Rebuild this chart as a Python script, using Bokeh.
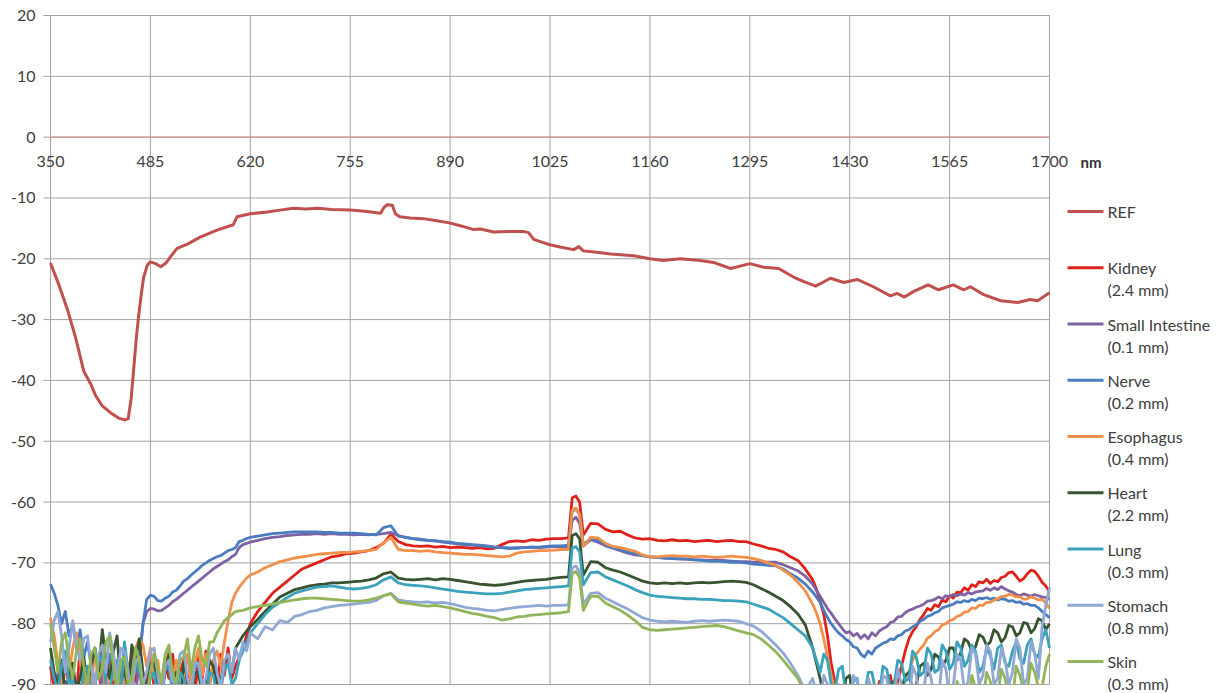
from bokeh.plotting import figure
from bokeh.models import Range1d
from bokeh.embed import file_html
from bokeh.resources import INLINE
from bokeh.core.properties import value

# ---------------------------------------------------------------- data
# sampling grid of the tissue spectra (nm): 5 nm steps in the two noisy ends,
# 10 nm in between, and extra points around the 1060 nm line
wavelength = (list(range(350, 620, 5)) + list(range(620, 1051, 10))
              + [1055, 1060, 1065] + list(range(1070, 1380, 10))
              + list(range(1380, 1701, 5)))

# reference spectrum (dB)
ref_wavelength = [350, 362, 373, 384, 395, 404, 411, 420, 431, 442,
                  451, 455, 459, 462, 466, 469, 473, 476, 481, 485,
                  492, 499, 506, 512, 521, 535, 553, 575, 597, 602,
                  620, 643, 660, 678, 695, 711, 730, 755, 775, 796,
                  801, 805, 812, 816, 822, 836, 854, 870, 889, 905,
                  922, 931, 949, 970, 989, 996, 1003, 1015, 1025, 1040,
                  1057, 1064, 1070, 1085, 1107, 1138, 1160, 1178, 1201, 1228,
                  1246, 1269, 1295, 1314, 1334, 1354, 1369, 1384, 1404, 1422,
                  1440, 1462, 1485, 1494, 1504, 1516, 1536, 1550, 1570, 1584,
                  1593, 1611, 1634, 1657, 1674, 1684, 1700]
ref_db = [-20.7, -24.5, -28.4, -33.0, -38.5, -40.5, -42.5, -44.2, -45.3, -46.2,
          -46.5, -46.3, -43.0, -38.7, -33.0, -29.5, -25.5, -23.0, -21.0, -20.5,
          -20.8, -21.3, -20.7, -19.7, -18.3, -17.6, -16.4, -15.3, -14.4, -13.1,
          -12.6, -12.3, -12.0, -11.7, -11.8, -11.7, -11.9, -12.0, -12.2, -12.5,
          -11.5, -11.1, -11.2, -12.6, -13.1, -13.3, -13.4, -13.7, -14.1, -14.6,
          -15.2, -15.1, -15.6, -15.5, -15.5, -15.7, -16.8, -17.3, -17.7, -18.1,
          -18.5, -18.0, -18.7, -18.9, -19.2, -19.5, -20.0, -20.3, -20.0, -20.3,
          -20.6, -21.6, -20.8, -21.4, -21.6, -23.0, -23.8, -24.5, -23.2, -23.9,
          -23.4, -24.6, -26.1, -25.7, -26.3, -25.4, -24.3, -25.1, -24.3, -25.1,
          -24.6, -25.9, -26.9, -27.2, -26.7, -26.9, -25.6]

kidney = [-87, -91, -88.5, -93, -86, -90.5, -88, -92, -84, -89,              # 350-395
          -91.5, -86.5, -90, -87, -93, -89, -85.5, -91, -88, -92.5,          # 400-445
          -86, -90, -84, -89.5, -87, -92, -88.5, -85, -90.5, -87,            # 450-495
          -92, -86.5, -89, -85, -91, -88, -86, -90, -87.5, -92,              # 500-545
          -85.5, -89, -84.5, -90, -86.5, -91, -85, -88.5, -84, -89,          # 550-595
          -87, -85.5, -84, -82,                                              # 600-615
          -80, -78, -76.5,                                                   # 620-640
          -75, -74, -73, -72, -71, -70.5, -70, -69.5, -69, -68.8,            # 650-740
          -68.5, -68.4, -68.2, -68, -67.5, -66.8, -65.3, -66.5, -67, -67.2,  # 750-840
          -67.3, -67.2, -67.4, -67.3, -67.5, -67.4, -67.5, -67.6, -67.5, -67.7,
          -67.6, -67, -66.5, -66.4, -66.5, -66.2, -66.3, -66.1, -66, -66,
          -65.9, -59.3, -59, -60, -65.4, -63.5, -63.6, -64.5, -64.9, -64.8,  # 1050-1120
          -65.4, -65.9, -66.1, -66, -66.3, -66.4, -66.2, -66.4, -66.3, -66.5,
          -66.4, -66.3, -66.5, -66.4, -66.3, -66.5, -66.5, -66.9, -67.2, -67.6,
          -67.8, -68.2, -69, -69.6, -71,                                     # 1330-1370
          -72.8, -74.3, -76.2, -78.5, -82, -86.5, -89.5, -93, -95, -92,      # 1380-1425
          -95, -97, -93, -96, -94, -97, -93.5, -95, -89.5, -94,
          -91, -88.5, -92, -89.5, -87, -84.5, -82.5, -81.3, -80.5, -79.3,
          -78.5, -77.5, -77.8, -76.9, -77.2, -76.1, -76.4, -75.4, -75.8, -74.8,
          -74.9, -74.1, -74.5, -73.6, -73.9, -73.1, -73.3, -72.7, -73.4, -72.9,
          -73.1, -72.4, -72.2, -71.6, -71.5, -72.2, -73, -72.6, -71.8, -71.2,
          -71.4, -72.2, -73.2, -73.8, -74.8]                                 # 1680-1700

small_intestine = [-90, -92, -88, -93, -89.5, -91, -87.5, -94, -90, -92.5,
                   -88.5, -91, -89, -93, -88, -92, -90, -94, -89, -91,
                   -87, -93, -88.5, -92, -86, -80, -78, -77.5, -77.6, -77.9,
                   -77.8, -77.4, -77, -76.4, -76, -75.5, -75, -74.5, -74, -73.5,
                   -73, -72.5, -72, -71.5, -71, -70.6, -70.2, -69.8, -69.5, -69,
                   -68.6, -67.5, -67, -66.8,
                   -66.6, -66.3, -66,
                   -65.8, -65.7, -65.5, -65.4, -65.3, -65.3, -65.2, -65.3, -65.2, -65.3,
                   -65.3, -65.4, -65.3, -65.4, -65.3, -65.2, -65, -65.5, -65.8, -66,
                   -66.1, -66.3, -66.4, -66.6, -66.7, -66.9, -67, -67.1, -67.2, -67.3,
                   -67.4, -67.5, -67.6, -67.5, -67.5, -67.4, -67.5, -67.4, -67.3, -67.4,
                   -67.4, -63, -62.5, -63.5, -67.2, -66.2, -66.6, -67.2, -67.6, -68,
                   -68.4, -68.7, -68.8, -69, -69.1, -69.2, -69.3, -69.4, -69.4, -69.5,
                   -69.5, -69.6, -69.5, -69.6, -69.7, -69.8, -69.8, -69.9, -69.9, -69.9,
                   -69.9, -70.3, -70.8, -71.3, -72.2,
                   -73.5, -74.5, -75.5, -76.5, -77.5, -78.3, -79.2, -80, -80.8, -81.5,
                   -81.3, -82, -81.6, -82.4, -81.8, -82.5, -81.5, -82, -81.2, -80.8,
                   -80.5, -79.8, -79.6, -78.9, -78.8, -78.2, -77.8, -77.6, -77.3, -77.1,
                   -76.8, -76.3, -76.2, -76, -75.6, -75.9, -75.4, -75.6, -75.2, -75.4,
                   -75.1, -75.3, -74.9, -75.1, -74.8, -74.7, -74.6, -74.2, -74.5, -74.1,
                   -74.4, -73.9, -74.3, -74.6, -74.8, -75.2, -75.4, -75.1, -75.3, -75.5,
                   -75.2, -75.4, -75.6, -75.7, -76]

nerve = [-73.5, -75, -77, -80, -78, -82, -80, -84, -81, -85.5,
         -83, -87, -84, -88.5, -86, -89, -85, -88, -86.5, -90,
         -87, -89.5, -86, -88, -86, -80, -76, -75.3, -75.5, -76.2,
         -76.3, -75.8, -75.5, -74.8, -74.5, -73.8, -73, -72.6, -72, -71.5,
         -71, -70.4, -70, -69.6, -69.3, -69, -68.8, -68.4, -68, -67.8,
         -67.5, -66.5, -66.3, -66,
         -65.8, -65.6, -65.4,
         -65.2, -65.1, -65, -64.9, -64.9, -64.9, -64.9, -65, -65, -65.1,
         -65.1, -65.1, -65.2, -65.3, -65.4, -64.2, -63.9, -65.6, -65.8, -66,
         -66.2, -66.3, -66.4, -66.5, -66.6, -66.8, -66.9, -67, -67.1, -67.2,
         -67.4, -67.5, -67.6, -67.6, -67.5, -67.4, -67.4, -67.3, -67.2, -67.2,
         -67.1, -61.5, -61.2, -62, -67, -66, -66.3, -67, -67.5, -67.8,
         -68.2, -68.5, -68.8, -69, -69.1, -69.2, -69.3, -69.3, -69.4, -69.5,
         -69.6, -69.7, -69.7, -69.8, -69.9, -69.9, -70, -70.2, -70.3, -70.4,
         -70.5, -71, -71.8, -72.5, -73.5,
         -74.8, -75.6, -76.5, -77.8, -79, -80, -80.8, -81.5, -82, -82.6,
         -83, -83.8, -84, -85, -85.5, -84.5, -85, -84, -83.6, -83.2,
         -83, -82.5, -82.6, -82, -81.8, -81.2, -81, -80.5, -80.2, -79.6,
         -79.3, -78.8, -78.6, -78.2, -78, -77.4, -77.2, -77, -76.8, -76.4,
         -76.5, -76.2, -76.4, -76, -76.2, -75.8, -75.9, -75.7, -76, -75.8,
         -76.1, -75.9, -76, -76.3, -76.2, -76.5, -76.4, -76.8, -76.7, -77,
         -77, -77.4, -78, -78.5, -79]

esophagus = [-79, -82, -86.5, -90, -85, -88.5, -84, -81.5, -86, -91,
             -87, -90.5, -84.5, -89, -86, -92, -88, -85, -90, -87,
             -91, -86.5, -89, -84, -82.5, -83.5, -87, -84, -89, -86,
             -91.5, -87, -84.5, -89, -86, -92, -88.5, -85, -90, -86.5,
             -84, -88.5, -85, -90, -86, -84.5, -87, -83, -79.5, -76.5,
             -75, -74, -73.2, -72.5,
             -72, -71.5, -70.8,
             -70.3, -69.8, -69.5, -69.2, -69, -68.8, -68.6, -68.5, -68.4, -68.3,
             -68.3, -68.2, -68.1, -68, -67.8, -66.7, -65.8, -67.8, -68, -68,
             -68.1, -68, -68.2, -68.3, -68.4, -68.5, -68.6, -68.6, -68.7, -68.8,
             -68.9, -69, -68.9, -68.4, -68.2, -68.1, -68, -68, -67.9, -67.8,
             -67.8, -61.3, -61, -62, -67.3, -65.8, -65.9, -66.8, -67.3, -67.5,
             -67.8, -68.1, -68.7, -69, -69, -68.9, -68.8, -68.9, -68.9, -69,
             -68.9, -69, -69.1, -69, -68.9, -69, -69.1, -69.3, -69.6, -70,
             -70.4, -71.2, -72, -73.2, -74.6,
             -76.8, -78.2, -80, -82.5, -85.5, -88.5, -91, -93, -94, -92,
             -95, -92.5, -95, -93, -96, -92.5, -94, -91, -93.5, -90.5,
             -94, -91, -92.5, -90, -91.5, -89, -88, -86, -85, -84.2,
             -83.5, -82.4, -82, -81.3, -81, -80.2, -80, -79.5, -79.3, -78.8,
             -78.6, -78.1, -78, -77.4, -77.5, -77, -77, -76.5, -76.5, -76.1,
             -75.9, -75.5, -75.5, -75.2, -75.3, -75.6, -75.6, -76, -75.9, -75.6,
             -75.8, -76.1, -76, -76.6, -77.5]

heart = [-84, -88, -90.5, -86, -92, -88.5, -86.5, -91, -89, -85.5,
         -90, -87, -84, -88, -81, -86, -89, -84.5, -82, -90,
         -87, -91, -83.5, -86, -82.5, -88, -91, -87, -86, -90.5,
         -92, -88, -85, -90, -88, -93, -86.5, -89, -93, -88,
         -88, -92, -91, -86, -87, -90, -89.5, -86, -85.5, -88,
         -84, -83, -82, -81.2,
         -80.5, -79.3, -78,
         -76.8, -75.6, -75, -74.4, -74.1, -73.8, -73.6, -73.5, -73.3, -73.3,
         -73.2, -73.1, -73, -72.8, -72.5, -71.8, -71.5, -72.5, -72.7, -72.8,
         -72.7, -72.6, -72.8, -72.6, -72.7, -72.9, -73.1, -73.3, -73.5, -73.6,
         -73.7, -73.6, -73.4, -73.2, -73, -72.9, -72.8, -72.7, -72.5, -72.4,
         -72.3, -65.5, -65.2, -66, -72, -69.8, -69.9, -70.8, -71.2, -71.5,
         -72, -72.5, -73, -73.3, -73.4, -73.3, -73.4, -73.3, -73.4, -73.3,
         -73.2, -73.3, -73.2, -73.1, -73, -73.1, -73.2, -73.6, -74.2, -74.8,
         -75.5, -76.2, -77.2, -78.4, -80.2,
         -84, -86.5, -89, -92, -93, -90, -91, -95, -94, -89,
         -88.5, -93, -93, -96, -91.5, -94, -95, -91, -90.5, -94,
         -93, -90, -89.5, -92.5, -91, -88.5, -88, -91, -90, -87,
         -86.5, -88.5, -87.5, -85, -85.5, -87, -86, -84, -84, -86,
         -84.8, -82.5, -83, -84.5, -83.8, -81.8, -82.2, -83.6, -83, -81,
         -81.5, -83, -82.3, -80.3, -80.5, -82, -81.5, -79.8, -80, -81.5,
         -80.8, -79.2, -79.5, -81, -80]

lung = [-86, -89, -91, -87, -84.5, -90, -89, -93, -92, -88,
        -87, -91, -90.5, -86.5, -85, -90, -91, -87.5, -86, -91.5,
        -83, -88, -90, -86.5, -87.5, -91, -92, -89, -88, -92.5,
        -91, -87.5, -87, -91.5, -93, -88, -89, -92, -91.5, -87,
        -87, -90.5, -92, -88, -88.5, -92, -91, -87.5, -86.5, -90,
        -89, -86, -84.5, -83,
        -81.5, -80, -78.5,
        -77.3, -76.5, -75.7, -75, -74.6, -74.3, -74, -73.9, -73.8, -74,
        -74.2, -74.3, -74.2, -74, -73.6, -72.8, -72.3, -73.3, -73.6, -73.7,
        -73.8, -73.9, -74.1, -74.3, -74.5, -74.7, -74.8, -74.9, -75, -75.1,
        -75.1, -75, -74.8, -74.6, -74.4, -74.3, -74.2, -74.1, -74, -73.9,
        -73.8, -67.6, -67.3, -68.2, -73.6, -71.6, -71.5, -72.3, -72.8, -73.3,
        -73.8, -74.4, -74.9, -75.3, -75.5, -75.6, -75.7, -75.8, -75.9, -75.9,
        -76, -76, -76.1, -76.2, -76.2, -76.3, -76.4, -76.8, -77.2, -77.6,
        -78.3, -79, -80, -81, -82,
        -84, -86, -88, -85, -86, -90, -91, -87.5, -87, -92,
        -93, -89.5, -89, -93, -92, -88, -88, -91, -91.5, -87,
        -87.5, -90.5, -90, -86, -86.5, -89.5, -89, -84.5, -85.5, -88.5,
        -88, -84, -85, -88, -87.5, -83.5, -84.5, -87.5, -86.5, -83,
        -84, -87, -86, -83.5, -84.5, -88, -87, -84, -85.2, -87.5,
        -84, -83.5, -86.5, -87, -84.5, -83, -85.8, -86.5, -83.5, -82.5,
        -85, -85.5, -82.5, -81, -84]

stomach = [-83, -79.5, -78, -82, -88, -84, -79.5, -83.5, -86, -82.5,
           -82, -87, -90, -85, -83.5, -88, -81.5, -85, -89, -84,
           -84.5, -88, -91, -86, -85.5, -90, -88, -84.5, -84, -88.5,
           -92, -87, -86, -89.5, -90, -85, -84.5, -89, -91, -86.5,
           -86.5, -90, -89, -85, -84, -88, -90.5, -86, -85, -88,
           -84, -86, -83, -84.5,
           -81.5, -82.5, -80.5,
           -81, -79.5, -79.8, -78.8, -78.5, -78, -77.8, -77.4, -77.2, -77,
           -76.9, -76.8, -76.6, -76.5, -76.2, -75.4, -75, -76.1, -76.3, -76.4,
           -76.5, -76.4, -76.6, -76.5, -76.7, -77, -77.3, -77.5, -77.6, -77.8,
           -77.9, -77.7, -77.5, -77.3, -77.2, -77.1, -77, -77.1, -77, -77,
           -76.9, -70.8, -70.5, -71.5, -76.8, -75, -74.9, -75.8, -76.4, -77,
           -77.6, -78.3, -79, -79.4, -79.6, -79.7, -79.6, -79.7, -79.8, -79.6,
           -79.5, -79.6, -79.5, -79.4, -79.5, -79.6, -80, -80.4, -81.2, -82.3,
           -83.5, -84.8, -86.5, -88.5, -91,
           -89, -91.5, -93, -88.5, -90, -94, -94, -90, -91, -95,
           -93, -88.5, -89.5, -94, -94, -89, -91, -95, -93.5, -88.5,
           -89, -93, -92, -87.5, -90, -94, -93, -87, -88.5, -93,
           -91, -86.5, -89, -93, -92.5, -86, -87.5, -92, -90, -85,
           -86, -91, -89.5, -84, -85, -90, -88.5, -83.5, -84.5, -90,
           -89, -84, -86, -90, -88, -82.5, -84, -90, -89, -83,
           -85, -89, -80.5, -77, -74]

skin = [-80, -84, -88, -83, -81.5, -86, -89, -84.5, -82.5, -87,
        -90, -85, -84, -89, -87.5, -83, -82, -87, -91, -86,
        -85.5, -90, -89, -84, -86, -90.5, -92, -88, -85, -87.5,
        -89.5, -85, -83.5, -88, -90, -86, -85.5, -82.5, -88, -84,
        -82, -86, -87, -83, -83, -81.5, -80.5, -79.5, -79, -78.5,
        -78, -77.9, -77.8, -77.6,
        -77.4, -77.2, -77,
        -76.8, -76.5, -76.3, -76.1, -75.9, -75.8, -75.8, -75.9, -76, -76.1,
        -76.2, -76.3, -76.3, -76.1, -75.8, -75.4, -75.1, -76.4, -76.6, -76.8,
        -77, -77.1, -77, -77.2, -77.4, -77.7, -78, -78.3, -78.5, -78.8,
        -79, -79.4, -79.2, -78.9, -78.8, -78.6, -78.5, -78.4, -78.3, -78.2,
        -78, -71.8, -71.4, -72.4, -77.8, -75.5, -75.5, -76.6, -77.2, -77.8,
        -78.6, -79.5, -80.6, -81, -81.1, -81, -80.9, -80.8, -80.7, -80.6,
        -80.5, -80.4, -80.3, -80.5, -80.8, -81.2, -81.5, -81.8, -82.5, -83.5,
        -84.6, -86, -87.5, -89, -91.5,
        -93, -95, -95, -92, -92, -95, -96, -93, -93, -96,
        -97, -94, -94, -97, -96, -93, -93, -96, -97, -94,
        -94, -96, -96, -92, -92.5, -95, -95, -91.5, -93, -95,
        -96, -91, -92, -95, -95, -90.5, -91.5, -94, -94, -89.5,
        -91, -94, -93.5, -88.5, -90.5, -93, -93, -88, -89.5, -92,
        -92, -87.5, -89, -92, -92.5, -87, -88.5, -91, -91, -86.5,
        -88, -90.5, -90.5, -87, -85]

series_names = ["Kidney", "Small Intestine", "Nerve", "Esophagus",
                "Heart", "Lung", "Stomach", "Skin"]
series_notes = ["(2.4 mm)", "(0.1 mm)", "(0.2 mm)", "(0.4 mm)",
                "(2.2 mm)", "(0.3 mm)", "(0.8 mm)", "(0.3 mm)"]
series_values = [kidney, small_intestine, nerve, esophagus,
                 heart, lung, stomach, skin]

x_ticks = [350, 485, 620, 755, 890, 1025, 1160, 1295, 1430, 1565, 1700]
y_ticks = [-90, -80, -70, -60, -50, -40, -30, -20, -10, 0, 10, 20]
x_unit = "nm"

# ---------------------------------------------------------------- style
REF_COLOR = "#C0504D"
SERIES_COLORS = ["#DE2219", "#7E62A3", "#4A7DC0", "#F0904A",
                 "#38532F", "#3AA2BA", "#90A8D6", "#93B55A"]
GRID = "#A3A3A3"
ZERO_LINE = "#DA8080"
TEXT = "#404040"
FONT = "Lato"

W, H = 1217, 693
# plot area on the canvas (pixels): the canvas-wide frame lets the wavelength
# labels, the "nm" unit and the legend sit outside the plot area
PL, PR, PT, PB = 50, 1049, 15, 684
X0, X1, Y0, Y1 = 350, 1700, -90, 20


def px_to_x(px):
    return X0 + (px - PL) * (X1 - X0) / (PR - PL)


def py_to_y(py):
    return Y1 - (py - PT) * (Y1 - Y0) / (PB - PT)


p = figure(width=W, height=H,
           x_range=Range1d(px_to_x(0), px_to_x(W)),
           y_range=Range1d(py_to_y(H), py_to_y(0)),
           x_axis_location=None, y_axis_location=None, min_border=0,
           output_backend="svg", toolbar_location=None)
p.background_fill_color = "white"
p.border_fill_color = "white"
p.outline_line_color = None
p.grid.visible = False

# gridlines (horizontal ones run out into the value-axis tick marks)
tick_x = px_to_x(PL - 7)
p.segment(x0=[tick_x] * len(y_ticks), y0=y_ticks, x1=[X1] * len(y_ticks), y1=y_ticks,
          line_color=GRID, line_width=1)
p.segment(x0=x_ticks, y0=[Y0] * len(x_ticks), x1=x_ticks, y1=[Y1] * len(x_ticks),
          line_color=GRID, line_width=1)
# wavelength axis crossing at 0 dB
p.segment(x0=[X0], y0=[0], x1=[X1], y1=[0], line_color=ZERO_LINE, line_width=1)

# spectra
p.line(ref_wavelength, ref_db, line_color=REF_COLOR, line_width=3, line_join="round")
for vals, col in zip(series_values, SERIES_COLORS):
    p.line(wavelength, vals, line_color=col, line_width=2.8, line_join="round")

# the plot area ends at -90 dB: hide whatever runs below it
p.quad(left=[px_to_x(0)], right=[px_to_x(W)], top=[Y0], bottom=[py_to_y(H + 20)],
       fill_color="white", line_color=None)
p.segment(x0=[tick_x], y0=[Y0], x1=[X1], y1=[Y0], line_color=GRID, line_width=1)

# value-axis labels
p.text(x=[px_to_x(PL - 15)] * len(y_ticks), y=y_ticks, text=[str(t) for t in y_ticks],
       text_align="right", text_baseline="middle", text_font=value(FONT),
       text_font_size=value("16px"), text_color=TEXT)
# wavelength labels just below the 0 dB line
label_y = py_to_y(161)
p.text(x=x_ticks, y=[label_y] * len(x_ticks), text=[str(t) for t in x_ticks],
       text_align="center", text_baseline="middle", text_font=value(FONT),
       text_font_size=value("16px"), text_color=TEXT)
p.text(x=[px_to_x(1080)], y=[label_y], text=[x_unit], text_align="left",
       text_baseline="middle", text_font=value(FONT), text_font_size=value("15px"),
       text_font_style="bold", text_color="#333333")

# legend
legend_names = ["REF"] + series_names
legend_notes = [""] + series_notes
legend_colors = [REF_COLOR] + SERIES_COLORS
rows = [211 + 56.25 * i for i in range(len(legend_names))]
row_y = [py_to_y(r) for r in rows]
p.segment(x0=[px_to_x(1067)] * len(rows), y0=row_y, x1=[px_to_x(1103)] * len(rows), y1=row_y,
          line_color=legend_colors, line_width=3)
p.text(x=[px_to_x(1107)] * len(rows), y=row_y, text=legend_names,
       text_align="left", text_baseline="middle", text_font=value(FONT),
       text_font_size=value("16px"), text_color=TEXT)
note_rows = [py_to_y(r + 22) for r, n in zip(rows, legend_notes) if n]
p.text(x=[px_to_x(1107)] * len(note_rows), y=note_rows, text=[n for n in legend_notes if n],
       text_align="left", text_baseline="middle", text_font=value(FONT),
       text_font_size=value("16px"), text_color=TEXT)

open("out.html", "w").write(file_html(p, INLINE))
